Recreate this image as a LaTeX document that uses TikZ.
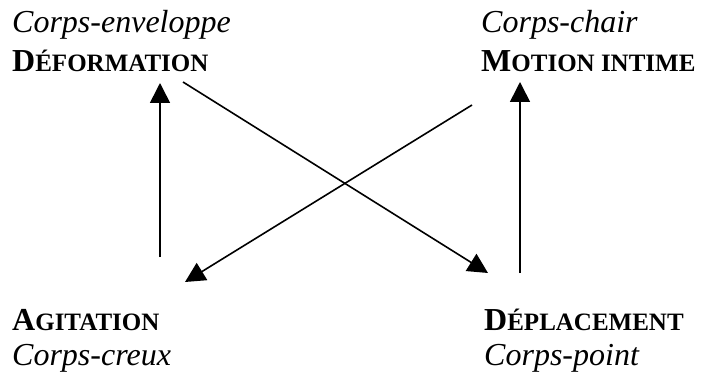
\documentclass[tikz,border=0pt]{standalone}
\usepackage{fontspec}
\setmainfont{Liberation Serif}
\usetikzlibrary{arrows.meta}
\newcommand{\smcap}[2]{{\bfseries #1\fontsize{25}{30}\selectfont #2}}
\begin{document}
\begin{tikzpicture}[x=1pt,y=-1pt,
  lab/.style={anchor=base west, inner sep=0pt, font=\fontsize{32}{38}\selectfont},
  arr/.style={line width=1.6pt, -{Triangle[length=20pt,width=20pt]}}]
\useasboundingbox (0,0) rectangle (703,374);
% labels
\node[lab] (ce)  at (12,33)  {\itshape Corps-enveloppe};
\node[lab] (def) at (12,72)  {\smcap{D}{ÉFORMATION}};
\node[lab] (cc)  at (481,33) {\itshape Corps-chair};
\node[lab] (mot) at (481,72) {\smcap{M}{OTION INTIME}};
\node[lab] (agi) at (12,330) {\smcap{A}{GITATION}};
\node[lab] (ccr) at (12,365) {\itshape Corps-creux};
\node[lab] (dep) at (484,330) {\smcap{D}{ÉPLACEMENT}};
\node[lab] (cp)  at (484,365) {\itshape Corps-point};
% connector ends
\coordinate (a1) at (160,257);
\coordinate (a1t) at (160,83);
\coordinate (b1) at (520,273);
\coordinate (b1t) at (520,82);
\coordinate (c1) at (183,82);
\coordinate (c1t) at (488,273);
\coordinate (d1) at (472,105);
\coordinate (d1t) at (185,282);
% connectors
\draw[arr] (a1) -- (a1t);
\draw[arr] (b1) -- (b1t);
\draw[arr] (c1) -- (c1t);
\draw[arr] (d1) -- (d1t);
\end{tikzpicture}
\end{document}
